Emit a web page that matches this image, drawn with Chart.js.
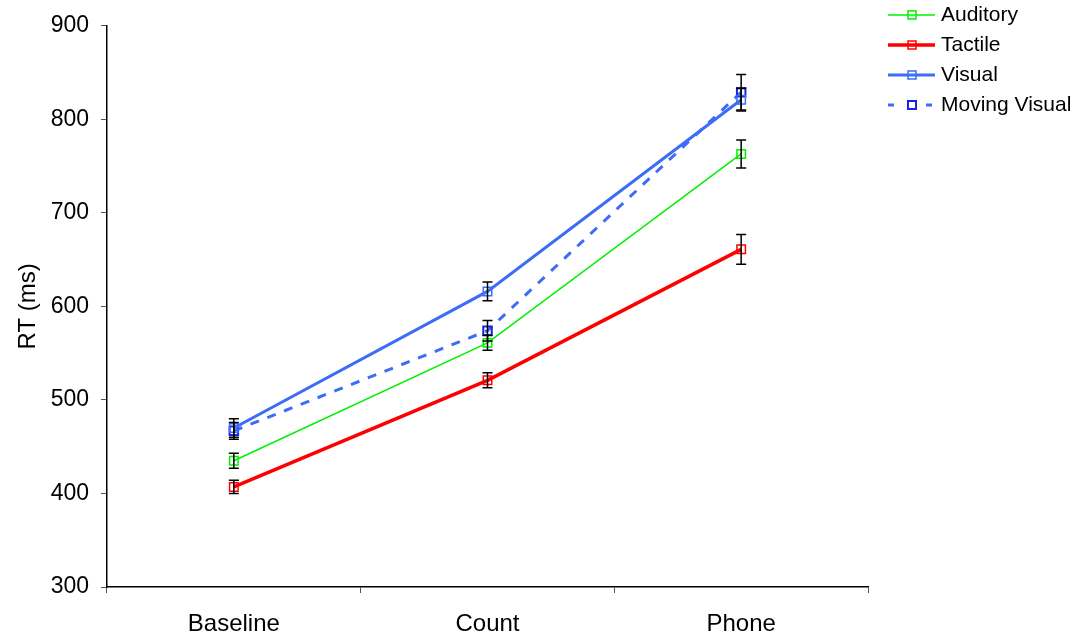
<!DOCTYPE html>
<html>
<head>
<meta charset="utf-8">
<script src="https://cdn.jsdelivr.net/npm/chart.js@4.4.0/dist/chart.umd.min.js"></script>
<style>
  html, body { margin: 0; padding: 0; background: #fff; }
  #wrap { width: 1079px; height: 636px; position: relative; }
</style>
</head>
<body>
<div id="wrap"><canvas id="rt"></canvas></div>
<script>
// Conditions and mean reaction times (ms) with error bar half-widths
const conditions = ['Baseline', 'Count', 'Phone'];
const auditory = [435, 561, 763];
const auditoryErr = [8, 8, 15];
const tactile = [407, 521, 661];
const tactileErr = [7, 8, 16];
const visual = [470, 616, 821];
const visualErr = [10, 10, 12];
const movingVisual = [467, 574, 829];
const movingVisualErr = [9, 11, 19];
const yTicks = [300, 400, 500, 600, 700, 800, 900];

const FONT = '"Liberation Sans", Arial, sans-serif';
const BLUE = '#3d6cf5';

function series(label, data, err, color, width, extra) {
    return Object.assign({
        label,
        data,
        errors: err,
        borderColor: color,
        borderWidth: width,
        pointStyle: 'rect',
        pointRadius: 6,
        pointBorderWidth: 1.5,
        pointBorderColor: color,
        pointBackgroundColor: 'rgba(0,0,0,0)',
        tension: 0,
        fill: false
    }, extra || {});
}

// Black error bars with caps, drawn from each dataset's errors array
const errorBars = {
    id: 'errorBars',
    afterDatasetsDraw(chart) {
        const { ctx, scales: { x, y } } = chart;
        ctx.save();
        ctx.strokeStyle = '#000';
        ctx.lineWidth = 1.5;
        chart.data.datasets.forEach(ds => {
            ds.data.forEach((v, i) => {
                const px = x.getPixelForValue(i);
                const top = y.getPixelForValue(v + ds.errors[i]);
                const bot = y.getPixelForValue(v - ds.errors[i]);
                ctx.beginPath();
                ctx.moveTo(px, top); ctx.lineTo(px, bot);
                ctx.moveTo(px - 5, top); ctx.lineTo(px + 5, top);
                ctx.moveTo(px - 5, bot); ctx.lineTo(px + 5, bot);
                ctx.stroke();
            });
        });
        ctx.restore();
    }
};

// Legend at the top right, line sample with square marker
const sideLegend = {
    id: 'sideLegend',
    afterDraw(chart) {
        const { ctx } = chart;
        ctx.save();
        ctx.font = '21px ' + FONT;
        ctx.textBaseline = 'middle';
        ctx.fillStyle = '#000';
        chart.data.datasets.forEach((ds, i) => {
            const yy = 15 + i * 30;
            const x0 = 888, x1 = 935, mx = 912;
            ctx.strokeStyle = ds.borderColor;
            ctx.lineWidth = ds.borderWidth;
            ctx.setLineDash([]);
            ctx.beginPath();
            if (ds.borderDash) {
                ctx.moveTo(x0, yy); ctx.lineTo(x0 + 6, yy);
                ctx.moveTo(x1 - 9, yy); ctx.lineTo(x1 - 3, yy);
            } else {
                ctx.moveTo(x0, yy); ctx.lineTo(x1, yy);
            }
            ctx.stroke();
            ctx.strokeStyle = ds.pointBorderColor;
            ctx.lineWidth = ds.pointBorderWidth;
            ctx.strokeRect(mx - 4, yy - 4, 8, 8);
            ctx.fillText(ds.label, 941, yy);
        });
        ctx.restore();
    }
};

new Chart(document.getElementById('rt'), {
    type: 'line',
    data: {
        labels: conditions,
        datasets: [
            series('Auditory', auditory, auditoryErr, '#00f000', 1.5),
            series('Tactile', tactile, tactileErr, '#ff0000', 3.5),
            series('Visual', visual, visualErr, BLUE, 3),
            series('Moving Visual', movingVisual, movingVisualErr, BLUE, 3, {
                borderDash: [9, 9],
                pointBorderColor: '#1a22e6',
                pointBorderWidth: 2
            })
        ]
    },
    options: {
        responsive: true,
        maintainAspectRatio: false,
        animation: false,
        layout: { padding: { top: 22, right: 211, bottom: 0, left: 0 } },
        plugins: {
            legend: { display: false },
            tooltip: { enabled: false }
        },
        scales: {
            x: {
                offset: true,
                grid: {
                    offset: true,
                    drawOnChartArea: false,
                    drawTicks: true,
                    tickLength: 6,
                    tickColor: '#555',
                    tickWidth: 1
                },
                border: { color: '#000', width: 1.5 },
                ticks: { color: '#000', font: { family: FONT, size: 24 }, padding: 17 },
                afterFit(s) { s.height = 49; }
            },
            y: {
                min: 300,
                max: 900,
                afterBuildTicks(s) { s.ticks = yTicks.map(v => ({ value: v })); },
                grid: {
                    drawOnChartArea: false,
                    tickLength: 6,
                    tickColor: '#555',
                    tickWidth: 1
                },
                border: { color: '#000', width: 1.5 },
                ticks: { color: '#000', font: { family: FONT, size: 23 }, padding: 12 },
                title: {
                    display: true,
                    text: 'RT (ms)',
                    color: '#000',
                    font: { family: FONT, size: 24 },
                    padding: { top: 14, bottom: 0 }
                },
                afterFit(s) { s.width = 107; }
            }
        }
    },
    plugins: [errorBars, sideLegend]
});
</script>
</body>
</html>
